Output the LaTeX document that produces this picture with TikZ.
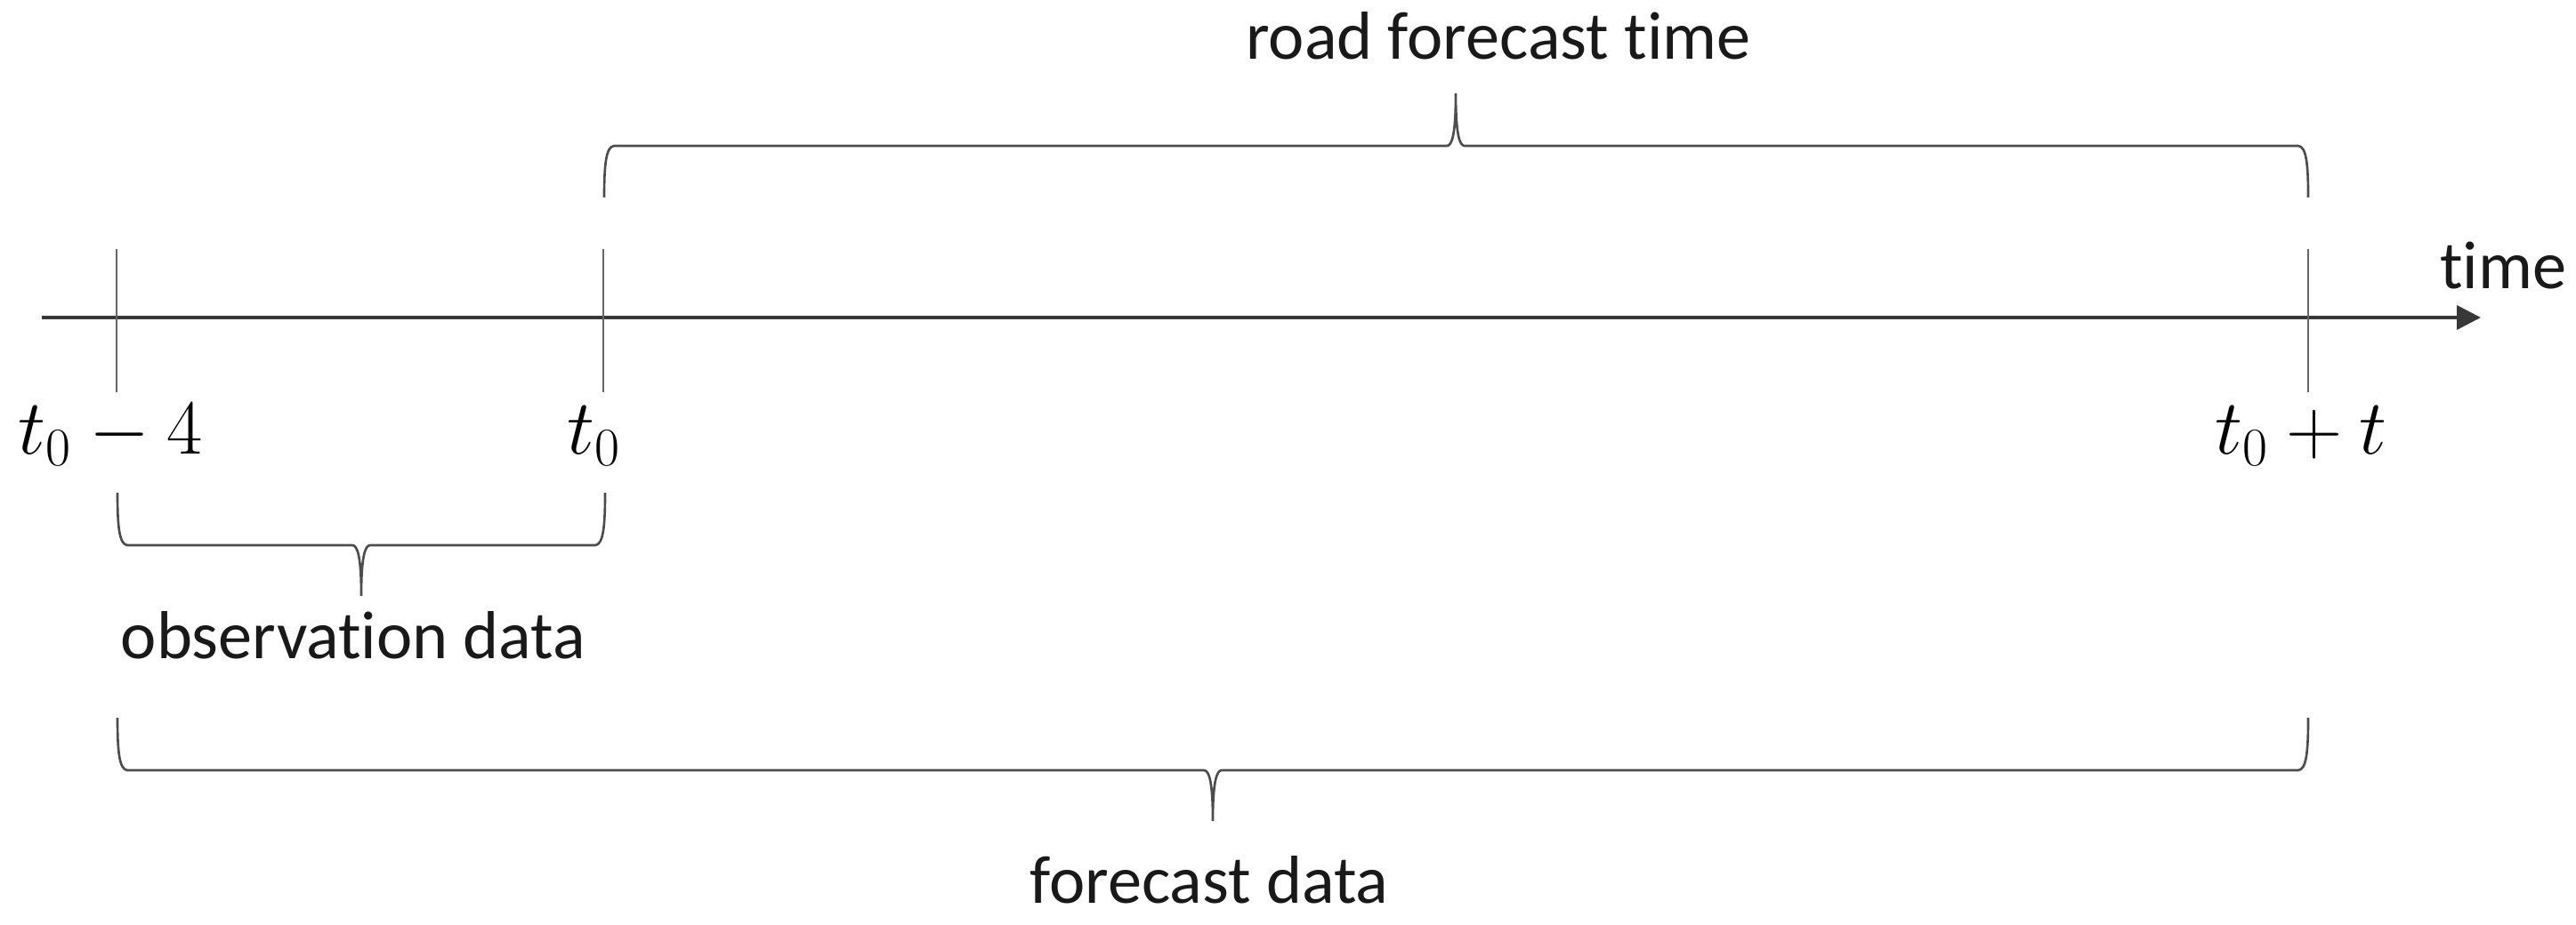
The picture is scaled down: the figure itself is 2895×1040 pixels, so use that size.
\documentclass[tikz,border=0pt]{standalone}
\usepackage{fontspec}
\setmainfont{Carlito}[RawFeature={-liga;-clig;-calt;-dlig;-rlig}]
\usetikzlibrary{arrows.meta}
\begin{document}
\begin{tikzpicture}[x=0.01cm,y=-0.01cm,
  axisline/.style={draw=black!78, line width=1pt},
  tickline/.style={draw=black!60, line width=0.7pt},
  braceline/.style={draw=black!70, line width=0.75pt},
  lbl/.style={font=\fontsize{21.7}{26}\selectfont, inner sep=0pt, text=black!90},
  mlbl/.style={font=\fontsize{23}{28}\selectfont, inner sep=0pt, anchor=base, text=black}]
\useasboundingbox (0,0) rectangle (2895,1040);
% axis
\coordinate (ax0) at (47,357);
\coordinate (ax1) at (2788,357);
\draw[axisline, -{Triangle[length=0.27cm,width=0.27cm]}] (ax0) -- (ax1);
% ticks
\coordinate (ta1) at (131,280); \coordinate (ta2) at (131,441);
\coordinate (tb1) at (678,280); \coordinate (tb2) at (678,441);
\coordinate (tc1) at (2594,280); \coordinate (tc2) at (2594,441);
\draw[tickline] (ta1) -- (ta2);
\draw[tickline] (tb1) -- (tb2);
\draw[tickline] (tc1) -- (tc2);
% tick labels
\node[mlbl] (lt4) at (124,510) {$t_0 - 4$};
\node[mlbl] (lt0) at (668,510) {$t_0$};
\node[mlbl] (ltt) at (2586,510) {$t_0 + t$};
\node[lbl, anchor=base] (ltime) at (2813,324) {time};
% top brace
\draw[braceline] (679,222) .. controls (679,185) and (681,165) .. (690,164) -- (1626,164)
  .. controls (1632,164) and (1636,150) .. (1636,105)
  .. controls (1636,150) and (1640,164) .. (1646,164) -- (2583,164)
  .. controls (2592,165) and (2594,185) .. (2594,222);
\node[lbl, anchor=base] (lroad) at (1684,67) {road forecast time};
% observation brace
\draw[braceline] (132,554) .. controls (132,592) and (134,612) .. (143,613) -- (396,613)
  .. controls (402,613) and (406,627) .. (406,670)
  .. controls (406,627) and (410,613) .. (416,613) -- (669,613)
  .. controls (678,612) and (680,592) .. (680,554);
\node[lbl, anchor=base] (lobs) at (397,740) {observation data};
% forecast brace
\draw[braceline] (132,807) .. controls (132,845) and (134,865) .. (143,866) -- (1353,866)
  .. controls (1359,866) and (1363,880) .. (1363,923)
  .. controls (1363,880) and (1367,866) .. (1373,866) -- (2583,866)
  .. controls (2592,865) and (2594,845) .. (2594,807);
\node[lbl, anchor=base] (lfc) at (1359,1015) {forecast data};
\end{tikzpicture}
\end{document}
